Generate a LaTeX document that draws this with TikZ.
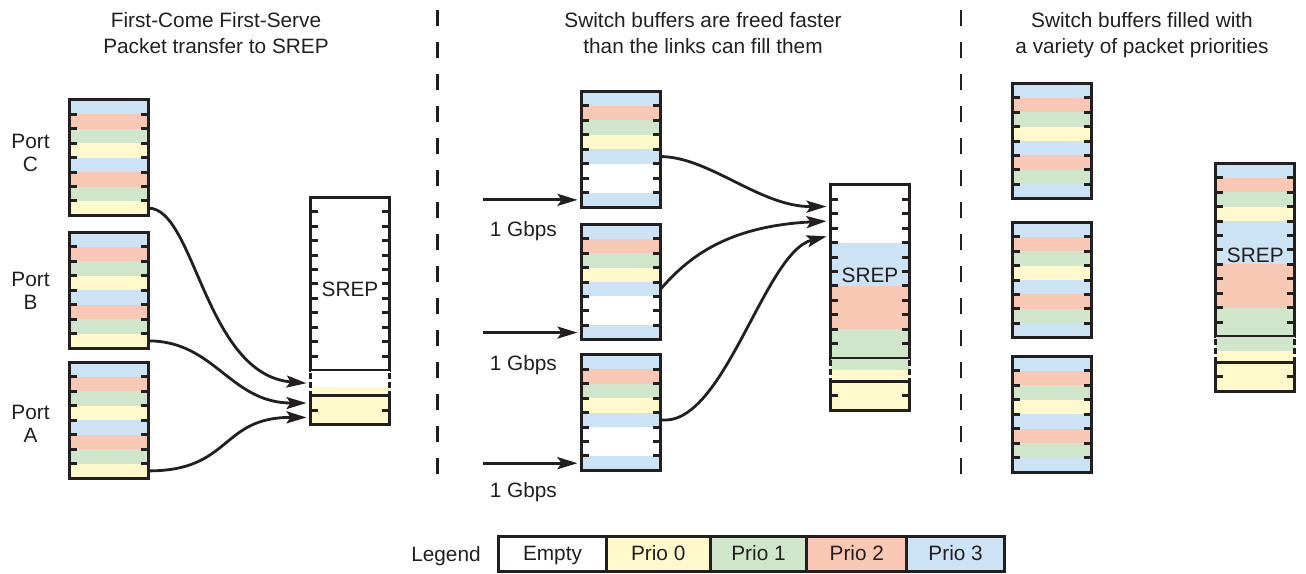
\documentclass[tikz,border=0pt]{standalone}
\usepackage{fontspec}
\setmainfont{Liberation Sans}
\usetikzlibrary{arrows.meta}
\definecolor{cb}{RGB}{204,226,245}
\definecolor{cs}{RGB}{249,200,180}
\definecolor{cg}{RGB}{208,230,203}
\definecolor{cy}{RGB}{255,249,204}
\definecolor{cw}{RGB}{255,255,255}
\definecolor{dark}{RGB}{35,31,32}
\def\slh{14.45}
\def\bw{79}
\tikzset{
  bufborder/.style={draw=dark,line width=3.1pt,inner sep=0pt,outer sep=0pt,anchor=north west,minimum width=\bw pt},
  tickline/.style={draw=dark,line width=3pt},
  conn/.style={draw=dark,line width=2.8pt,-{Stealth[length=20pt,width=12pt,inset=4pt]},shorten >=4pt},
  lbl/.style={font=\fontsize{20.8}{25}\selectfont,text=dark,inner sep=0pt},
  legbox/.style={lbl,draw=dark,line width=2.7pt,minimum height=35.5pt,text height=15pt,text depth=1pt,anchor=center},
  divider/.style={draw=dark,line width=2.8pt,dash pattern=on 16pt off 16pt},
  gapside/.style={draw=dark,line width=3.1pt,dash pattern=on 6pt off 3pt}
}
\newcommand\stack[5]{%
  \foreach \c [count=\k] in {#5} {
    \fill[\c] (#2,{#3+(\k-1)*\slh}) rectangle ++(\bw,\slh);
    \coordinate (#1-\k-w) at (#2,{#3+(\k-0.5)*\slh});
    \coordinate (#1-\k-e) at ({#2+\bw},{#3+(\k-0.5)*\slh});
  }
  \pgfmathtruncatemacro\nm{#4-1}
  \foreach \k in {1,...,\nm} {
    \draw[tickline] (#2,{#3+\k*\slh}) -- ++(7.5,0);
    \draw[tickline] ({#2+\bw},{#3+\k*\slh}) -- ++(-7.5,0);
  }
  \node[bufborder,minimum height={#4*\slh}] (#1) at (#2,#3) {};
}
\newcommand\tail[6]{%
  \fill[#6] (#2,#3) rectangle ({#2+\bw},#4);
  \fill[cy] (#2,#4) rectangle ({#2+\bw},#5);
  \draw[gapside] (#2,{#3+1.6}) -- (#2,{#5-1.6});
  \draw[gapside] ({#2+\bw},{#3+1.6}) -- ({#2+\bw},{#5-1.6});
  \coordinate (#1-gap) at (#2,{(#3+#5)/2});
  \stack{#1box}{#2}{#5}{2}{cy,cy}
}
\begin{document}
\begin{tikzpicture}[x=1pt,y=-1pt]
\useasboundingbox (0,0) rectangle (1306,573);

% titles
\node[lbl,anchor=base] (t1a) at (216,27) {First-Come First-Serve};
\node[lbl,anchor=base] (t1b) at (216,53) {Packet transfer to SREP};
\node[lbl,anchor=base] (t2a) at (703,27) {Switch buffers are freed faster};
\node[lbl,anchor=base] (t2b) at (703,53) {than the links can fill them};
\node[lbl,anchor=base] (t3a) at (1142,27) {Switch buffers filled with};
\node[lbl,anchor=base] (t3b) at (1142,53) {a variety of packet priorities};

% dividers
\draw[divider] (437.7,10) -- (437.7,474);
\draw[divider] (961,10) -- (961,474);

% ---- left panel ----
\stack{pc}{69.5}{99.8}{8}{cb,cs,cg,cy,cb,cs,cg,cy}
\stack{pb}{69.5}{232.5}{8}{cb,cs,cg,cy,cb,cs,cg,cy}
\stack{pa}{69.5}{362.5}{8}{cb,cs,cg,cy,cb,cs,cg,cy}
\node[lbl,anchor=base] (lc1) at (30.5,148.3) {Port};
\node[lbl,anchor=base] (lc2) at (30.5,171.7) {C};
\node[lbl,anchor=base] (lb1) at (30.5,286) {Port};
\node[lbl,anchor=base] (lb2) at (30.5,309.4) {B};
\node[lbl,anchor=base] (la1) at (30.5,419.3) {Port};
\node[lbl,anchor=base] (la2) at (30.5,442.7) {A};

\stack{sl}{310.5}{197.2}{12}{cw,cw,cw,cw,cw,cw,cw,cw,cw,cw,cw,cw}
\tail{sl}{310.5}{371.2}{386.7}{395.8}{cw}
\node[lbl,anchor=base] (slt) at (350,296) {SREP};

\draw[conn] (pc-8-e) .. controls (195,208) and (205,375) .. (sl-gap);
\draw[conn] (pb-8-e) .. controls (215,341) and (230,403) .. (slbox-1-w);
\draw[conn] (pa-8-e) .. controls (232,471) and (220,417) .. (slbox-2-w);

% ---- middle panel ----
\stack{mt}{581.5}{91.5}{8}{cb,cs,cg,cy,cb,cw,cw,cb}
\stack{mm}{581.5}{224.2}{8}{cb,cs,cg,cy,cb,cw,cw,cb}
\stack{mb}{581.5}{354.8}{8}{cb,cs,cg,cy,cb,cw,cw,cb}
\path (mt-8-w) ++(-98.5,0) coordinate (in1);
\path (mm-8-w) ++(-98.5,0) coordinate (in2);
\path (mb-8-w) ++(-98.5,0) coordinate (in3);
\draw[conn] (in1) -- (mt-8-w);
\draw[conn] (in2) -- (mm-8-w);
\draw[conn] (in3) -- (mb-8-w);
\node[lbl,anchor=base] (g1) at (523.3,236.7) {1 Gbps};
\node[lbl,anchor=base] (g2) at (523.3,370.7) {1 Gbps};
\node[lbl,anchor=base] (g3) at (523.3,497) {1 Gbps};

\stack{sm}{830.5}{184.8}{12}{cw,cw,cw,cw,cb,cb,cb,cs,cs,cs,cg,cg}
\tail{sm}{830.5}{358.8}{370}{381.5}{cg}
\node[lbl,anchor=base] (smt) at (870,282.3) {SREP};

\draw[conn] (mt-5-e) .. controls (710,157) and (760,207) .. (sm-2-w);
\draw[conn] (mm-5-e) .. controls (690,255) and (730,226) .. (sm-3-w);
\draw[conn] (mb-5-e) .. controls (724,428) and (764,252) .. (sm-4-w);

% ---- right panel ----
\stack{rt}{1012.2}{83.2}{8}{cb,cs,cg,cy,cb,cs,cg,cb}
\stack{rm}{1012.2}{222.2}{8}{cb,cs,cg,cy,cb,cs,cg,cb}
\stack{rb}{1012.2}{356.5}{8}{cb,cs,cg,cy,cb,cs,cg,cb}
\stack{sr}{1215.5}{163.2}{12}{cb,cs,cg,cy,cb,cb,cb,cs,cs,cs,cg,cg}
\tail{sr}{1215.5}{337.2}{350.7}{362.5}{cg}
\node[lbl,anchor=base] (srt) at (1255.3,262) {SREP};

% ---- legend ----
\node[lbl,anchor=base] (leg) at (446,561) {Legend};
\node[legbox,fill=cw,minimum width=107.4pt] (l0) at (552.5,553.95) {Empty};
\node[legbox,fill=cy,minimum width=104pt] (l1) at (658.2,553.95) {Prio 0};
\node[legbox,fill=cg,minimum width=96.6pt] (l2) at (758.5,553.95) {Prio 1};
\node[legbox,fill=cs,minimum width=100pt] (l3) at (856.8,553.95) {Prio 2};
\node[legbox,fill=cb,minimum width=97.7pt] (l4) at (955.65,553.95) {Prio 3};
\end{tikzpicture}
\end{document}
